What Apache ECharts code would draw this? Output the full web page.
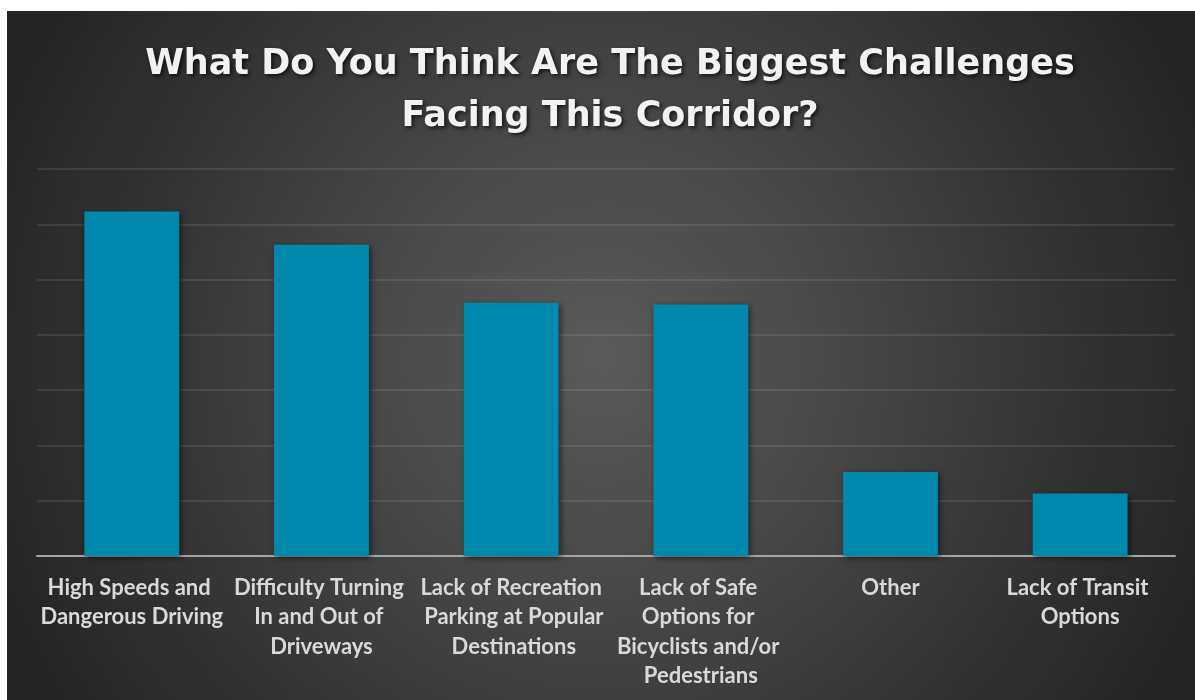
<!DOCTYPE html>
<html>
<head>
<meta charset="utf-8">
<script src="https://cdn.jsdelivr.net/npm/echarts@6/dist/echarts.min.js"></script>
<style>
  html, body { margin: 0; padding: 0; background: #ffffff; }
  #chart { position: absolute; left: 7px; top: 11px; width: 1188px; height: 689px; }
</style>
</head>
<body>
<div id="chart"></div>
<script>
// Survey responses per challenge
const categories = [
  'High Speeds and Dangerous Driving',
  'Difficulty Turning In and Out of Driveways',
  'Lack of Recreation Parking at Popular Destinations',
  'Lack of Safe Options for Bicyclists and/or Pedestrians',
  'Other',
  'Lack of Transit Options'
];
const responses = [62.3, 56.3, 45.8, 45.5, 15.2, 11.3];
const titleLines = ['What Do You Think Are The Biggest Challenges', 'Facing This Corridor?'];

const chart = echarts.init(document.getElementById('chart'));
chart.setOption({
  backgroundColor: {
    type: 'radial', x: 0.5, y: 0.5, r: 0.92,
    colorStops: [
      { offset: 0, color: '#5b5b5b' },
      { offset: 0.55, color: '#3e3e3e' },
      { offset: 1, color: '#252525' }
    ]
  },
  title: {
    text: titleLines.join('\n'),
    left: 598, top: 23, textAlign: 'center',
    textStyle: {
      fontFamily: 'DejaVu Sans', fontWeight: 'bold', fontSize: 35, lineHeight: 52,
      color: '#f2f2f2',
      textShadowColor: 'rgba(0,0,0,0.7)', textShadowBlur: 4,
      textShadowOffsetX: 2, textShadowOffsetY: 2
    }
  },
  grid: { left: 30, right: 20, top: 158, bottom: 144 },
  xAxis: {
    type: 'category',
    data: categories,
    axisLine: { lineStyle: { color: '#a6a6a6', width: 2 } },
    axisTick: { show: false },
    axisLabel: {
      interval: 0, margin: 17,
      width: 186, overflow: 'break',
      fontFamily: 'Lato', fontWeight: 'bold', fontSize: 22, lineHeight: 29.5,
      color: '#d9d9d9'
    }
  },
  yAxis: {
    type: 'value', min: 0, max: 70, interval: 10,
    axisLabel: { show: false },
    axisLine: { show: false },
    axisTick: { show: false },
    splitLine: { lineStyle: { color: 'rgba(255,255,255,0.09)', width: 2 } }
  },
  series: [{
    type: 'bar',
    data: responses,
    barWidth: '50%',
    itemStyle: {
      color: '#0088ad',
      shadowColor: 'rgba(0,0,0,0.55)', shadowBlur: 6,
      shadowOffsetX: 2, shadowOffsetY: 2
    }
  }]
});
</script>
</body>
</html>
